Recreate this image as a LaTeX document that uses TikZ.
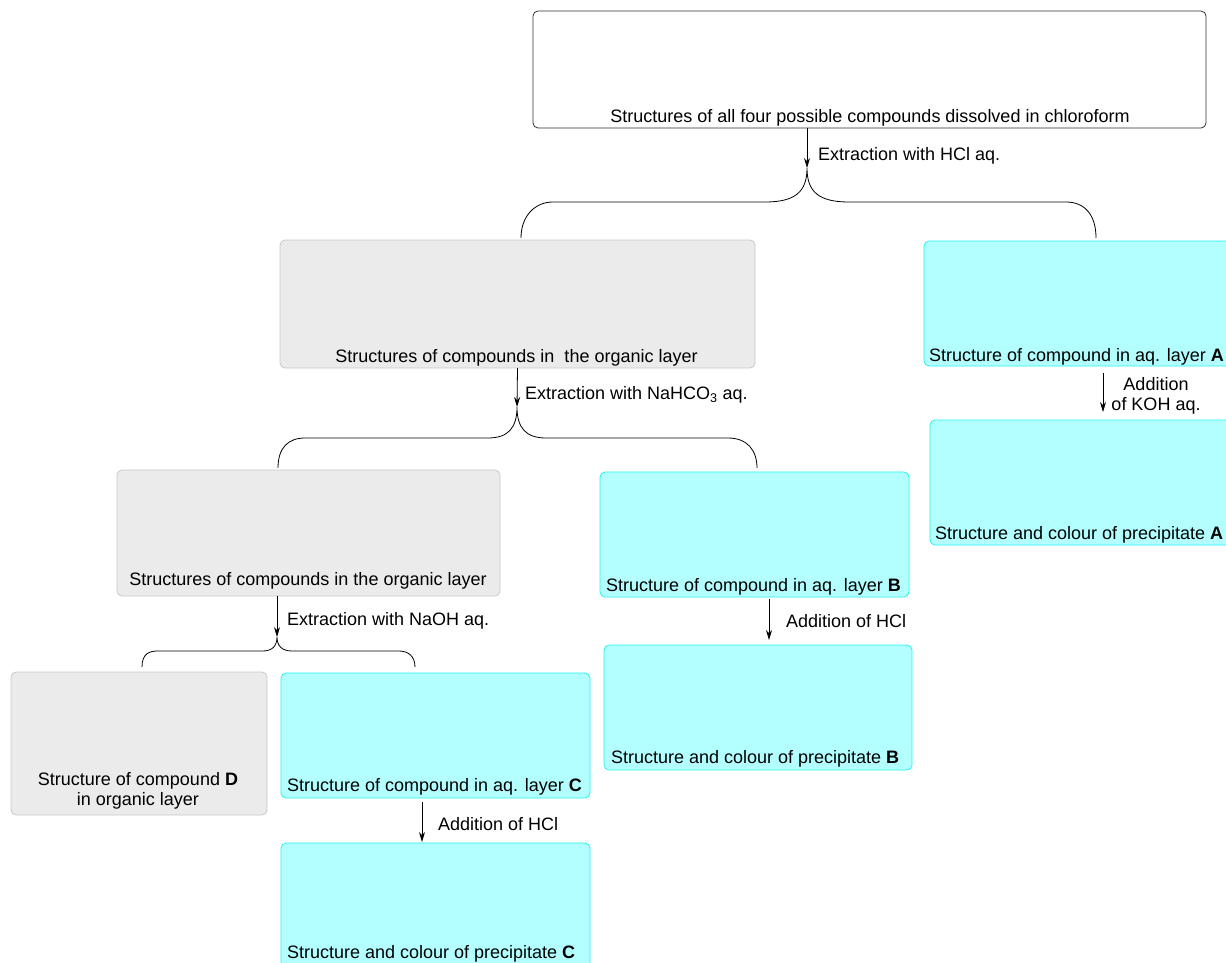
\documentclass[tikz,border=0pt]{standalone}
\usepackage{fontspec}
\setmainfont{Liberation Sans}
\usetikzlibrary{arrows.meta}
\definecolor{aqfill}{HTML}{B3FFFF}
\definecolor{aqdraw}{HTML}{26F2F2}
\definecolor{orgfill}{HTML}{EBEBEB}
\definecolor{orgdraw}{HTML}{C8C8C8}
\definecolor{topdraw}{HTML}{303030}
\begin{document}
\begin{tikzpicture}[x=1pt,y=-1pt,
  box/.style={rounded corners=5pt, inner sep=0pt, outer sep=0pt, line width=0.8pt},
  aq/.style={box, draw=aqdraw, fill=aqfill},
  org/.style={box, draw=orgdraw, fill=orgfill},
  topbox/.style={box, draw=topdraw, fill=white},
  txt/.style={font=\fontsize{18}{20}\selectfont, inner sep=0pt, outer sep=0pt, text=black},
  arr/.style={line width=0.8pt, -{Stealth[length=10pt,width=6pt]}},
  brace/.style={line width=0.8pt}]
\useasboundingbox (0,0) rectangle (1226,963);
% boxes
\node[topbox, minimum width=673pt, minimum height=117pt] (top) at (869.5,69.5) {};
\node[org, minimum width=475pt, minimum height=128pt] (org1) at (517.5,304) {};
\node[aq, minimum width=316pt, minimum height=125pt] (aqA) at (1082,303.5) {};
\node[aq, minimum width=310pt, minimum height=125pt] (prA) at (1085,482.5) {};
\node[org, minimum width=383pt, minimum height=126pt] (org2) at (308.5,533) {};
\node[aq, minimum width=309pt, minimum height=125pt] (aqB) at (754.5,534.5) {};
\node[aq, minimum width=308pt, minimum height=125pt] (prB) at (758,707.5) {};
\node[org, minimum width=256pt, minimum height=143pt] (orgD) at (139,743.5) {};
\node[aq, minimum width=309pt, minimum height=125pt] (aqC) at (435.5,735.5) {};
\node[aq, minimum width=309pt, minimum height=147pt] (prC) at (435.5,916.5) {};
% box texts
\node[txt, anchor=base] (ttop) at (870,123) {Structures of all four possible compounds dissolved in chloroform};
\node[txt, anchor=base] (torg1) at (516.5,362) {Structures of compounds in \ the organic layer};
\node[txt, anchor=base west] (taqA) at (929,361) {Structure of compound in aq. layer \textbf{A}};
\node[txt, anchor=base west] (tprA) at (935,539) {Structure and colour of precipitate \textbf{A}};
\node[txt, anchor=base] (torg2) at (308,585) {Structures of compounds in the organic layer};
\node[txt, anchor=base west] (taqB) at (606,591.5) {Structure of compound in aq. layer \textbf{B}};
\node[txt, anchor=base west] (tprB) at (611,763) {Structure and colour of precipitate \textbf{B}};
\node[txt, anchor=base, align=center] (torgD) at (138,805) {Structure of compound \textbf{D}\\in organic layer};
\node[txt, anchor=base west] (taqC) at (287,791) {Structure of compound in aq. layer \textbf{C}};
\node[txt, anchor=base west] (tprC) at (287,958) {Structure and colour of precipitate \textbf{C}};
% cusp coordinates
\coordinate (c1) at (807,168);
\coordinate (c2) at (517,407);
\coordinate (c3) at (277,637);
% extraction arrows
\draw[arr] ([xshift=-62.5pt]top.south) -- (c1);
\draw[arr] (org1.south) -- (c2);
\draw[arr] ([xshift=-31.5pt]org2.south) -- (c3);
\node[txt, anchor=base west] (l1) at (818,160.5) {Extraction with HCl aq.};
\node[txt, anchor=base west] (l2) at (525,399.5) {Extraction with NaHCO\textsubscript{3} aq.};
\node[txt, anchor=base west] (l3) at (287,625.5) {Extraction with NaOH aq.};
% braces
\draw[brace] ([xshift=3.5pt,yshift=2pt]org1.north) .. controls ++(0,-22) and (535,202) .. (553,202) -- (765,202)
  .. controls (795,202) and (807,192) .. (c1)
  .. controls (807,192) and (819,202) .. (849,202) -- (1066,202)
  .. controls (1084,202) and (1096,214) .. ([xshift=14pt,yshift=3pt]aqA.north);
\draw[brace] ([xshift=-30.5pt,yshift=2pt]org2.north) .. controls ++(0,-20) and (288,438) .. (305,438) -- (488,438)
  .. controls (508,438) and (517,428) .. (c2)
  .. controls (517,428) and (526,438) .. (546,438) -- (728,438)
  .. controls (747,438) and (757,450) .. ([xshift=2.5pt,yshift=4pt]aqB.north);
\draw[brace] ([xshift=3pt,yshift=5pt]orgD.north) .. controls ++(0,-14) and (150,651) .. (158,651) -- (263,651)
  .. controls (272,651) and (277,646) .. (c3)
  .. controls (277,646) and (282,651) .. (292,651) -- (399,651)
  .. controls (408,651) and (415,656) .. ([xshift=-20.5pt,yshift=6pt]aqC.north);
% addition arrows
\draw[arr] ([xshift=21pt,yshift=-7pt]aqA.south) -- ([xshift=18pt,yshift=8pt]prA.north);
\node[txt, anchor=base, align=center] (lA) at (1156,410.5) {Addition\\of KOH aq.};
\draw[arr] ([xshift=14.5pt,yshift=-2pt]aqB.south) -- ([xshift=11pt,yshift=5pt]prB.north);
\node[txt, anchor=base west] (lB) at (786,627.5) {Addition of HCl};
\draw[arr] ([xshift=-13.5pt,yshift=-4pt]aqC.south) -- ([xshift=-13.5pt,yshift=1pt]prC.north);
\node[txt, anchor=base west] (lC) at (438,830.5) {Addition of HCl};
\end{tikzpicture}
\end{document}
